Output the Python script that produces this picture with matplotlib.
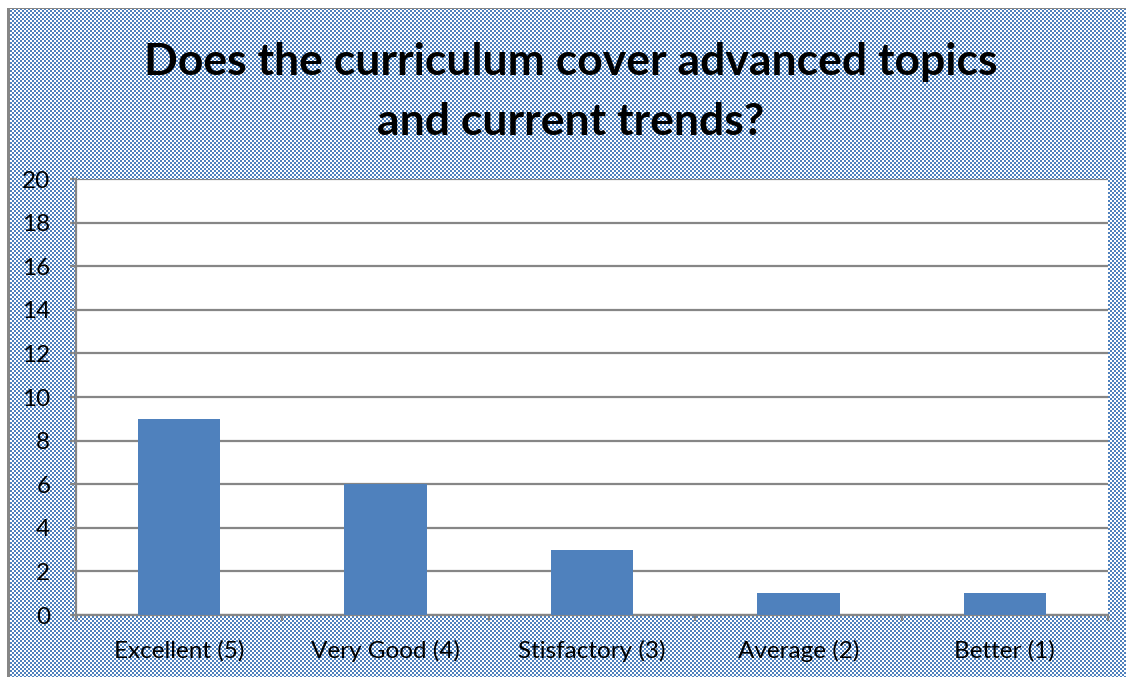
import numpy as np
import matplotlib
matplotlib.use("Agg")
import matplotlib.pyplot as plt

# data
categories = ["Excellent (5)", "Very Good (4)", "Stisfactory (3)", "Average (2)", "Better (1)"]
counts = [9, 6, 3, 1, 1]
y_ticks = list(range(0, 21, 2))

W, H = 1126, 677
BLUE = "#4f81bd"

fig = plt.figure(figsize=(W / 100, H / 100), dpi=100)

# patterned chart-area background (blue/white 2px checker, like Excel pattern fill)
bg = np.ones((H, W, 3))
yy, xx = np.mgrid[0:H, 0:W]
checker = ((xx // 2) + (yy // 2)) % 2 == 0
blue = np.array([79, 129, 189]) / 255
mask = checker & (xx >= 10) & (yy >= 9)
bg[mask] = blue
# grey frame of the chart area
grey = np.array([134, 134, 134]) / 255
bg[8:, 7:10] = grey
bg[8:9, 7:] = grey
fig.figimage(bg, xo=0, yo=0, origin="upper", zorder=-10)

ax = fig.add_axes([76 / W, 1 - 615 / H, (1108 - 76) / W, (615 - 179) / H])
ax.set_zorder(5)
ax.set_facecolor("white")

x = np.arange(len(categories))
ax.bar(x, counts, width=0.4, color=BLUE, zorder=3)

ax.set_xlim(-0.5, len(categories) - 0.5)
ax.set_ylim(0, 20)
ax.set_yticks(y_ticks)
ax.set_xticks(x)
ax.set_xticklabels(categories, fontsize=17.5, family="Lato")
ax.set_xticks(np.arange(-0.5, len(categories), 1), minor=True)
for lab in ax.get_yticklabels():
    lab.set_fontsize(17.5)
    lab.set_family("Lato")

ax.grid(axis="y", color="#868686", linewidth=1.6, zorder=1)
ax.set_axisbelow(True)
for side in ["top", "right"]:
    ax.spines[side].set_visible(False)
for side in ["left", "bottom"]:
    ax.spines[side].set_color("#868686")
    ax.spines[side].set_linewidth(1.6)
ax.tick_params(axis="y", length=4.5, width=1.6, color="#868686", pad=14)
ax.tick_params(axis="x", which="major", length=0, pad=18)
ax.tick_params(axis="x", which="minor", length=4.5, width=1.6, color="#868686")

fig.text(571 / W, 1 - 92 / H,
         "Does the curriculum cover advanced topics\nand current trends?",
         ha="center", va="center", fontsize=32, fontweight="bold",
         family="Lato", linespacing=1.6)

fig.savefig("out.png", dpi=100)
